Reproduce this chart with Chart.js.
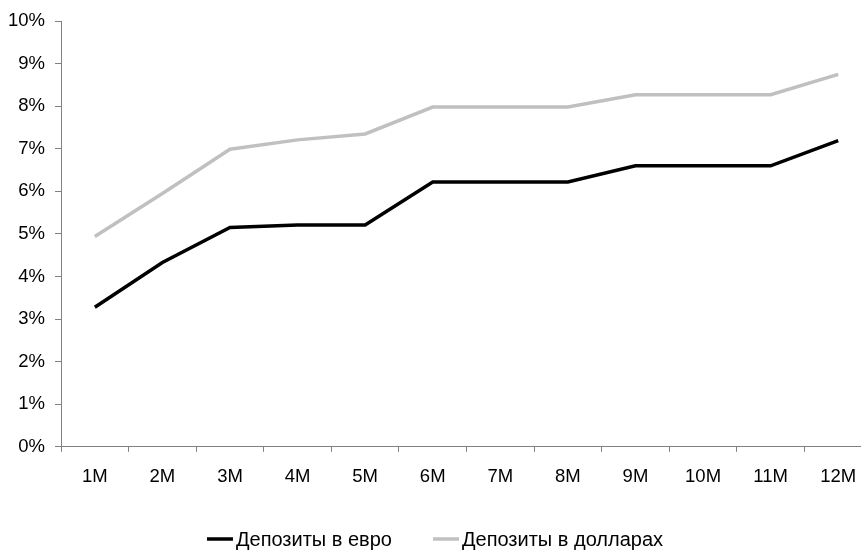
<!DOCTYPE html>
<html lang="ru">
<head>
  <meta charset="UTF-8" />
  <title>Депозиты</title>
  <script src="https://cdn.jsdelivr.net/npm/chart.js"></script>
  <style>
    html, body { margin: 0; padding: 0; background: #fff; overflow: hidden; }
    #wrap { width: 861px; height: 551px; overflow: hidden; }
  </style>
</head>
<body>
  <div id="wrap">
    <canvas id="rates" width="880" height="551"></canvas>
  </div>

  <script>
    // Сроки вкладов и ставки, %
    const terms = ["1M", "2M", "3M", "4M", "5M", "6M", "7M", "8M", "9M", "10M", "11M", "12M"];
    const euroRates = [3.28, 4.33, 5.15, 5.21, 5.21, 6.22, 6.22, 6.22, 6.60, 6.60, 6.60, 7.19];
    const usdRates = [4.94, 5.95, 6.99, 7.21, 7.35, 7.98, 7.98, 7.98, 8.27, 8.27, 8.27, 8.75];
    const yTicks = [0, 1, 2, 3, 4, 5, 6, 7, 8, 9, 10];

    const fontFamily = "'Liberation Sans', Arial, sans-serif";
    const font = { family: fontFamily, size: 18.5 };
    const axisColor = "#808080";

    // Легенда снизу: короткая линия цвета серии и подпись рядом
    const bottomLegend = {
      id: "bottomLegend",
      afterDraw(chart) {
        const ctx = chart.ctx;
        const lineLen = 26, textGap = 3, itemGap = 41;
        const y = 539;
        ctx.save();
        ctx.font = "20px " + fontFamily;
        ctx.textBaseline = "middle";
        ctx.textAlign = "left";
        const items = chart.data.datasets.map(ds => ({
          text: ds.label,
          color: ds.borderColor,
          w: lineLen + textGap + ctx.measureText(ds.label).width
        }));
        const total = items.reduce((s, it) => s + it.w, 0) + itemGap * (items.length - 1);
        let x = 435 - total / 2;
        items.forEach(it => {
          ctx.strokeStyle = it.color;
          ctx.lineWidth = 3.5;
          ctx.beginPath();
          ctx.moveTo(x, y);
          ctx.lineTo(x + lineLen, y);
          ctx.stroke();
          ctx.fillStyle = "#000";
          ctx.fillText(it.text, x + lineLen + textGap, y + 1);
          x += it.w + itemGap;
        });
        ctx.restore();
      }
    };

    new Chart(document.getElementById("rates").getContext("2d"), {
      type: "line",
      data: {
        labels: terms,
        datasets: [
          {
            label: "Депозиты в евро",
            data: euroRates,
            borderColor: "#000000",
            backgroundColor: "#000000",
            borderWidth: 3.5,
            pointRadius: 0,
            tension: 0
          },
          {
            label: "Депозиты в долларах",
            data: usdRates,
            borderColor: "#c0c0c0",
            backgroundColor: "#c0c0c0",
            borderWidth: 3.5,
            pointRadius: 0,
            tension: 0
          }
        ]
      },
      options: {
        responsive: false,
        animation: false,
        devicePixelRatio: 1,
        layout: { padding: { left: -2, right: 8, top: 13, bottom: 49 } },
        plugins: {
          tooltip: { enabled: false },
          legend: { display: false }
        },
        scales: {
          x: {
            offset: true,
            grid: { offset: true, drawOnChartArea: false, drawTicks: true, tickLength: 5, color: axisColor },
            border: { display: true, color: axisColor, width: 1 },
            ticks: { color: "#000", font: font, padding: 14, maxRotation: 0 }
          },
          y: {
            min: 0,
            max: 10,
            afterBuildTicks: axis => { axis.ticks = yTicks.map(v => ({ value: v })); },
            grid: { drawOnChartArea: false, drawTicks: true, tickLength: 6, color: axisColor },
            border: { display: true, color: axisColor, width: 1 },
            ticks: { color: "#000", font: font, padding: 10, callback: v => v + "%" }
          }
        }
      },
      plugins: [bottomLegend]
    });
  </script>
</body>
</html>
